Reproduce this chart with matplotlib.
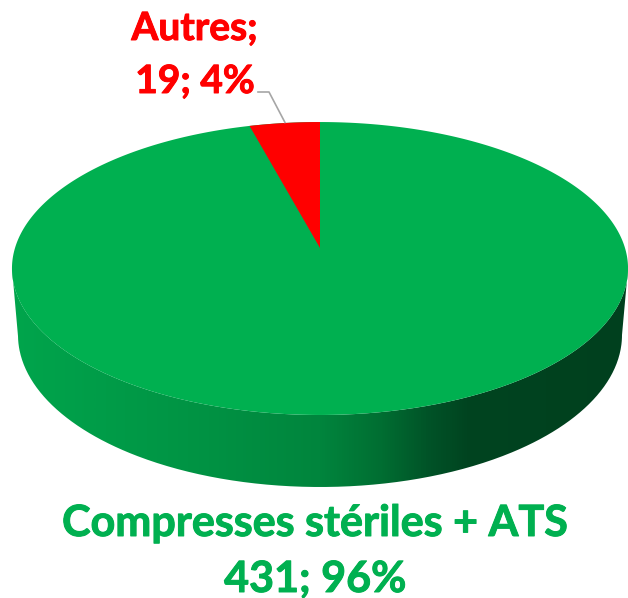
import numpy as np
import matplotlib
matplotlib.use("Agg")
import matplotlib.pyplot as plt
import matplotlib.patheffects as pe
from matplotlib.colors import LinearSegmentedColormap
from matplotlib.patches import PathPatch, Polygon
from matplotlib.path import Path

categories = ["Compresses stériles + ATS", "Autres"]
values = [431, 19]
percents = [96, 4]
colors = ["#00B050", "#FF0000"]

W, H = 628, 598
fig = plt.figure(figsize=(W / 100, H / 100), dpi=100)
ax = fig.add_axes([0, 0, 1, 1])
ax.set_xlim(0, W)
ax.set_ylim(H, 0)
ax.axis("off")

# perspective view of the round top face
cx, apex_y = 320, 248
persp, X, Y = 0.14, 305, 143.6


def top_face(theta):
    """theta is clockwise from the back of the pie."""
    u, v = np.sin(theta), np.cos(theta)
    w = 1 + persp * v
    return cx + X * u / w, apex_y - Y * v / w


rx, ry, cy = 308, 146.5, 268.5
bcx, bcy, brx, bry = 320, 335, 302, 152

# side wall
t = np.linspace(0, np.pi, 400)
outline = np.vstack([
    np.c_[cx + rx * np.cos(t), cy + ry * np.sin(t)],
    np.c_[bcx + brx * np.cos(t[::-1]), bcy + bry * np.sin(t[::-1])],
])
side_cmap = LinearSegmentedColormap.from_list("side", [
    (0.00, "#00A54C"), (0.15, "#009C48"), (0.32, "#009243"), (0.50, "#00853D"),
    (0.60, "#006E32"), (0.68, "#005227"), (0.74, "#004420"), (1.00, "#00401E")])
grad = np.linspace(0, 1, 512).reshape(1, -1)
im = ax.imshow(grad, extent=[cx - rx, cx + rx, H, 0], cmap=side_cmap, aspect="auto", zorder=1)
clip = PathPatch(Path(np.vstack([outline, outline[:1]])), transform=ax.transData, fc="none", ec="none")
ax.add_patch(clip)
im.set_clip_path(clip)
ax.set_xlim(0, W)
ax.set_ylim(H, 0)

# top face, built from the shares
tt = np.linspace(0, 2 * np.pi, 720)
ax.fill(*top_face(tt), color=colors[0], lw=0, zorder=2)
share = values[1] / sum(values) * 2 * np.pi
a = np.linspace(-share, 0, 40)
xs, ys = top_face(a)
ax.add_patch(Polygon(np.c_[np.r_[cx, xs], np.r_[apex_y, ys]], closed=True, fc=colors[1], ec="none", zorder=3))

# leader line
ax.plot([258, 269, 285], [92, 92, 122.5], color="#A6A6A6", lw=1.2, zorder=4)

font = "Lato"
size_small, size_big = 28, 31


def label(x, y, s, color, size):
    txt = ax.text(x, y, s, color=color, fontsize=size, fontweight="bold",
                  family=font, ha="center", va="baseline", zorder=5)
    txt.set_path_effects([pe.withStroke(linewidth=0.7, foreground=color)])


label(194.5, 40, f"{categories[1]};", colors[1], size_small)
label(195, 93, f"{values[1]}; {percents[1]}%", colors[1], size_small)
label(315, 536, categories[0], colors[0], size_big)
label(315, 592, f"{values[0]}; {percents[0]}%", colors[0], size_big)

fig.savefig("out.png", dpi=100)
